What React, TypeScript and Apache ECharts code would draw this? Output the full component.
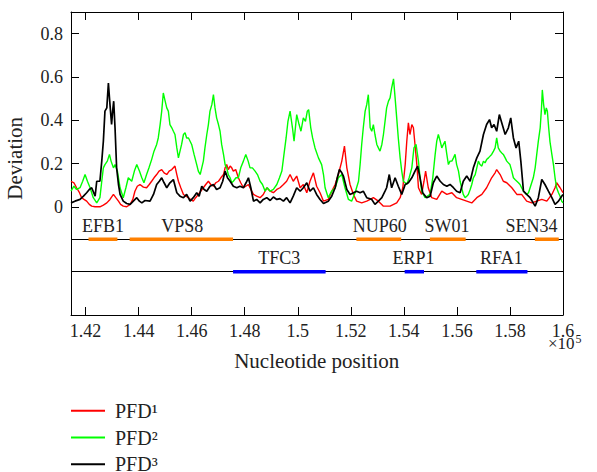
import React, { useEffect, useRef } from "react";
import * as echarts from "echarts";

const FONT = '"Liberation Serif", "Times New Roman", serif';
const TEXT = "#222";

const X_MIN = 141450;
const X_MAX = 160000;
const Y_MIN = -0.5;
const Y_MAX = 0.9;
const X_TICKS = [142000, 144000, 146000, 148000, 150000, 152000, 154000, 156000, 158000, 160000];
const Y_TICKS = [0, 0.2, 0.4, 0.6, 0.8];

const SERIES_NAMES = ["PFD¹", "PFD²", "PFD³"];
const SERIES_COLORS = ["#ff0000", "#00ff00", "#000000"];

const PFD1: [number, number][] = [
  [141450,0.118],[141560,0.111],[141660,0.088],[141770,0.065],[141850,0.042],[141940,0.034],[142040,0.026],[142140,0.011],[142230,0.003],[142360,0],[142540,0],[142670,0.008],[142800,0.018],[142920,0.034],[143050,0.057],[143140,0.042],[143240,0.026],[143320,0.011],[143420,0.003],[143550,0],[143680,0.011],[143780,0.034],[143860,0.072],[143950,0.095],[144050,0.103],[144180,0.091],[144300,0.088],[144400,0.103],[144490,0.118],[144580,0.134],[144680,0.149],[144770,0.165],[144870,0.172],[144960,0.157],[145060,0.149],[145150,0.165],[145250,0.172],[145310,0.18],[145370,0.188],[145440,0.149],[145500,0.118],[145590,0.088],[145690,0.057],[145780,0.049],[145880,0.042],[145960,0.034],[146060,0.026],[146150,0.042],[146250,0.057],[146340,0.072],[146440,0.088],[146530,0.103],[146630,0.118],[146720,0.103],[146820,0.095],[146910,0.111],[147010,0.118],[147100,0.134],[147200,0.149],[147260,0.18],[147320,0.195],[147380,0.172],[147450,0.188],[147510,0.18],[147570,0.165],[147660,0.172],[147760,0.134],[147850,0.111],[147950,0.088],[148040,0.095],[148140,0.103],[148230,0.08],[148330,0.057],[148450,0.049],[148580,0.042],[148700,0.057],[148830,0.088],[148960,0.072],[149080,0.065],[149210,0.08],[149330,0.088],[149460,0.103],[149580,0.118],
  [149710,0.149],[149830,0.118],[149960,0.142],[150090,0.088],[150210,0.103],[150340,0.065],[150460,0.118],[150590,0.157],[150710,0.095],[150840,0.065],[150970,0.026],[151150,0.034],[151280,0.072],[151410,0.103],[151530,0.149],[151660,0.211],[151760,0.28],[151850,0.18],[151970,0.103],[152100,0.057],[152220,0.026],[152410,0.018],[152600,0.026],[152730,0.034],[152850,0.042],[153040,0.026],[153230,0.003],[153480,0.003],[153730,0.018],[153860,0.042],[153960,0.088],[154050,0.195],[154110,0.303],[154170,0.388],[154230,0.334],[154300,0.38],[154360,0.365],[154420,0.288],[154490,0.195],[154550,0.088],[154670,0.057],[154760,0.118],[154820,0.165],[154920,0.088],[155050,0.042],[155240,0.034],[155430,0.072],[155620,0.057],[155810,0.065],[155990,0.042],[156180,0.034],[156370,0.026],[156560,0.018],[156750,0.042],[156940,0.057],[157120,0.088],[157310,0.134],[157440,0.157],[157500,0.172],[157630,0.149],[157750,0.118],[157880,0.111],[158070,0.088],[158260,0.057],[158440,0.057],[158630,0.026],[158820,0.018],[159010,0.026],[159200,0.034],[159390,0.026],[159580,0.057],[159700,0.088],[159760,0.111],[159890,0.088],[160000,0.065]
];

const PFD2: [number, number][] = [
  [141450,0.072],[141560,0.095],[141660,0.08],[141790,0.088],[141890,0.118],[141980,0.149],[142070,0.118],[142170,0.088],[142290,0.042],[142420,0.018],[142540,0.042],[142610,0.118],[142670,0.18],[142730,0.195],[142820,0.211],[142900,0.242],[142960,0.211],[143050,0.18],[143110,0.195],[143200,0.165],[143300,0.088],[143420,0.042],[143520,0.088],[143610,0.134],[143740,0.118],[143840,0.165],[143930,0.195],[144030,0.165],[144120,0.134],[144200,0.111],[144300,0.149],[144390,0.18],[144490,0.218],[144580,0.257],[144680,0.288],[144740,0.318],[144810,0.38],[144870,0.442],[144930,0.526],[145000,0.488],[145060,0.457],[145120,0.442],[145180,0.38],[145250,0.365],[145310,0.349],[145370,0.334],[145440,0.272],[145500,0.226],[145560,0.257],[145620,0.288],[145690,0.334],[145750,0.342],[145810,0.318],[145880,0.318],[145940,0.303],[146000,0.288],[146090,0.242],[146190,0.195],[146250,0.165],[146320,0.149],[146380,0.18],[146440,0.211],[146500,0.272],[146570,0.334],[146630,0.38],[146690,0.442],[146760,0.472],[146820,0.518],[146880,0.457],[146940,0.411],[147010,0.38],[147070,0.349],[147130,0.288],[147200,0.242],[147260,0.195],[147320,0.18],[147380,0.149],[147450,0.134],[147510,0.111],[147570,0.118],[147670,0.134],[147760,0.134],[147850,0.18],[147950,0.211],[148040,0.242],[148130,0.211],[148200,0.18],[148290,0.18],[148390,0.165],[148480,0.149],[148580,0.118],[148670,0.103],[148770,0.072],[148850,0.088],[148960,0.072],[149080,0.08],[149210,0.103],[149310,0.134],[149400,0.165],[149480,0.242],[149560,0.318],[149630,0.395],
  [149710,0.442],[149800,0.365],[149860,0.303],[149960,0.426],[150050,0.38],[150120,0.349],[150210,0.411],[150290,0.395],[150360,0.442],[150410,0.449],[150490,0.365],[150560,0.318],[150650,0.272],[150780,0.226],[150900,0.195],[150970,0.149],[151030,0.088],[151150,0.042],[151280,0.072],[151410,0.088],[151530,0.134],[151660,0.149],[151780,0.088],[151910,0.034],[152030,0.026],[152160,0.065],[152290,0.118],[152350,0.195],[152410,0.288],[152470,0.365],[152540,0.442],[152600,0.472],[152660,0.518],[152730,0.365],[152790,0.349],[152850,0.38],[152910,0.334],[152980,0.288],[153040,0.272],[153100,0.257],[153170,0.288],[153230,0.334],[153290,0.395],[153350,0.457],[153420,0.488],[153480,0.503],[153540,0.549],[153610,0.591],[153670,0.503],[153730,0.411],[153790,0.318],[153860,0.226],[153920,0.165],[153980,0.118],[154050,0.111],[154110,0.103],[154200,0.134],[154300,0.18],[154380,0.272],[154460,0.288],[154550,0.211],[154610,0.134],[154670,0.072],[154800,0.042],[154990,0.057],[155090,0.134],[155180,0.242],[155240,0.303],[155300,0.334],[155370,0.303],[155430,0.272],[155490,0.288],[155550,0.303],[155620,0.242],[155680,0.195],[155740,0.211],[155810,0.211],[155870,0.226],[155930,0.242],[155990,0.195],[156060,0.165],[156120,0.118],[156180,0.088],[156240,0.057],[156310,0.042],[156370,0.049],[156430,0.057],[156500,0.08],[156560,0.103],[156620,0.134],[156690,0.149],[156750,0.18],[156810,0.211],[156870,0.195],[156940,0.188],[157000,0.211],[157060,0.203],[157120,0.218],[157190,0.226],[157250,0.234],[157310,0.242],[157380,0.257],[157440,0.272],[157500,0.318],[157560,0.272],[157630,0.257],[157690,0.249],[157750,0.242],[157820,0.226],[157880,0.211],[157940,0.203],[158000,0.195],[158070,0.165],[158130,0.134],[158190,0.126],[158260,0.118],[158320,0.111],[158380,0.103],[158440,0.088],[158510,0.072],[158570,0.065],[158630,0.057],[158700,0.065],[158760,0.088],[158820,0.111],[158880,0.134],[158950,0.18],[159010,0.242],[159070,0.303],[159140,0.365],[159190,0.457],[159220,0.54],[159270,0.472],[159320,0.426],[159370,0.457],[159410,0.442],[159460,0.365],[159510,0.3],[159580,0.242],[159640,0.195],[159700,0.134],[159760,0.088],[159830,0.065],[159890,0.049],[159950,0.026],[160000,0.018]
];

const PFD3: [number, number][] = [
  [141450,0.018],[141600,0.026],[141790,0.034],[141920,0.049],[142040,0.065],[142140,0.08],[142230,0.088],[142360,0.049],[142420,0.118],[142540,0.118],[142610,0.211],[142670,0.303],[142730,0.442],[142800,0.457],[142860,0.572],[142900,0.503],[142950,0.426],[142980,0.38],[143020,0.442],[143060,0.488],[143110,0.365],[143170,0.18],[143240,0.103],[143300,0.057],[143420,0.026],[143550,0.015],[143680,0.011],[143800,0.026],[143930,0.042],[144030,0.026],[144120,0.018],[144240,0.029],[144430,0.026],[144560,0.057],[144680,0.103],[144780,0.118],[144870,0.134],[144960,0.111],[145060,0.088],[145180,0.111],[145310,0.126],[145440,0.065],[145560,0.049],[145690,0.042],[145810,0.057],[145940,0.026],[146060,0.042],[146190,0.065],[146280,0.049],[146380,0.095],[146470,0.08],[146570,0.072],[146690,0.095],[146820,0.103],[146940,0.08],[147070,0.088],[147170,0.118],[147260,0.165],[147350,0.134],[147450,0.118],[147570,0.095],[147700,0.088],[147820,0.095],[147950,0.088],[148050,0.111],[148140,0.134],[148230,0.088],[148330,0.026],[148450,0.034],[148580,0.018],[148700,0.034],[148830,0.042],[148960,0.029],[149080,0.045],[149210,0.034],[149330,0.038],[149460,0.026],[149580,0.042],
  [149710,0.018],[149830,0.049],[149960,0.088],[150090,0.072],[150210,0.088],[150340,0.111],[150460,0.072],[150590,0.088],[150710,0.057],[150840,0.034],[150970,0.015],[151150,0.026],[151280,0.049],[151410,0.088],[151490,0.134],[151570,0.172],[151660,0.157],[151720,0.142],[151850,0.08],[151970,0.057],[152100,0.065],[152220,0.072],[152350,0.065],[152470,0.072],[152600,0.042],[152790,0.034],[152910,0.011],[153040,0.026],[153170,0.042],[153290,0.072],[153350,0.088],[153450,0.149],[153540,0.088],[153670,0.134],[153790,0.095],[153920,0.057],[154050,0.103],[154170,0.111],[154300,0.134],[154420,0.165],[154520,0.188],[154610,0.134],[154710,0.065],[154860,0.042],[154990,0.049],[155110,0.111],[155240,0.142],[155370,0.118],[155490,0.103],[155620,0.095],[155740,0.103],[155870,0.088],[155990,0.072],[156120,0.065],[156240,0.118],[156370,0.142],[156500,0.118],[156620,0.18],[156750,0.226],[156870,0.257],[157000,0.334],[157120,0.38],[157230,0.403],[157310,0.365],[157400,0.38],[157500,0.349],[157600,0.426],[157690,0.388],[157820,0.334],[157940,0.365],[158030,0.411],[158130,0.318],[158230,0.272],[158330,0.303],[158410,0.211],[158510,0.072],[158630,0.057],[158760,0.042],[158950,0.003],[159070,0.042],[159200,0.126],[159320,0.103],[159450,0.072],[159580,0.042],[159700,0.011],[159830,0.026],[159950,0.049],[160000,0.057]
];

// Gene annotations
const GENE_NAMES = ["EFB1", "VPS8", "NUP60", "SW01", "SEN34", "TFC3", "ERP1", "RFA1"];
const GENE_START = [142110, 143660, 152210, 154980, 158940, 147560, 154030, 156730];
const GENE_END = [143200, 147560, 153900, 156330, 159840, 151050, 154760, 158660];
const GENE_TRACK = [0, 0, 0, 0, 0, 1, 1, 1];
const GENE_LABEL_X = [142657, 145643, 153091, 155622, 158808, 149301, 154366, 157677];

const TRACK_Y = [-0.15, -0.3];
const TRACK_LABEL_Y = [-0.087, -0.236];
const TRACK_COLORS = ["#ff8000", "#0000ff"];

const LEGEND_CENTER_Y = [410.7, 437.5, 464.3];

export default function App() {
  const ref = useRef<HTMLDivElement>(null);
  useEffect(() => {
    if (!ref.current) return;
    const chart = echarts.init(ref.current, null, { renderer: "svg" });
    const geneRows = GENE_NAMES.map((_, i) => [GENE_START[i], GENE_END[i], GENE_TRACK[i], GENE_LABEL_X[i]]);
    const axisLine = { show: true, onZero: false, lineStyle: { color: "#000", width: 1 } };
    const fmtX = (v: number) => String(+(v / 1e5).toFixed(2));
    const fmtY = (v: number) => String(+v.toFixed(1));
    const legends = SERIES_NAMES.map((n, i) => ({
      orient: "vertical", left: 71, top: LEGEND_CENTER_Y[i] - 11, padding: 0,
      itemWidth: 34, itemHeight: 2, icon: "rect",
      data: [n],
      textStyle: { fontFamily: FONT, fontSize: 20, color: TEXT, lineHeight: 22, padding: [0, 0, 0, 5] },
    }));
    chart.setOption({
      animation: false,
      backgroundColor: "#fff",
      color: SERIES_COLORS,
      grid: { left: 71, right: 34, top: 12, bottom: 157, containLabel: false },
      xAxis: [
        {
          type: "value", min: X_MIN, max: X_MAX, position: "bottom",
          axisLine, splitLine: { show: false },
          axisTick: { show: true, inside: true, length: 8, customValues: X_TICKS, lineStyle: { color: "#000" } },
          axisLabel: { show: true, customValues: X_TICKS, formatter: fmtX, margin: 10, lineHeight: 12, fontFamily: FONT, fontSize: 18, color: TEXT },
        },
        {
          type: "value", min: X_MIN, max: X_MAX, position: "top",
          axisLine, splitLine: { show: false },
          axisTick: { show: true, inside: true, length: 8, customValues: X_TICKS, lineStyle: { color: "#000" } },
          axisLabel: { show: false },
        },
      ],
      yAxis: [
        {
          type: "value", min: Y_MIN, max: Y_MAX, position: "left",
          axisLine, splitLine: { show: false },
          axisTick: { show: true, inside: true, length: 8, customValues: Y_TICKS, lineStyle: { color: "#000" } },
          axisLabel: { show: true, customValues: Y_TICKS, formatter: fmtY, margin: 8, fontFamily: FONT, fontSize: 18, color: TEXT },
        },
        {
          type: "value", min: Y_MIN, max: Y_MAX, position: "right",
          axisLine, splitLine: { show: false },
          axisTick: { show: true, inside: true, length: 8, customValues: Y_TICKS, lineStyle: { color: "#000" } },
          axisLabel: { show: false },
        },
      ],
      legend: legends,
      graphic: [
        { type: "text", x: 14.6, y: 158.3, rotation: Math.PI / 2, style: { text: "Deviation", fontFamily: FONT, fontSize: 21, fill: TEXT, align: "center", verticalAlign: "middle" } },
        { type: "text", x: 316.7, y: 361.2, style: { text: "Nucleotide position", fontFamily: FONT, fontSize: 21, fill: TEXT, align: "center", verticalAlign: "middle" } },
        { type: "text", x: 548, y: 343.5, style: { text: "×10", fontFamily: FONT, fontSize: 17, lineHeight: 11, fill: TEXT, align: "left", verticalAlign: "middle" } },
        { type: "text", x: 575.5, y: 338.5, style: { text: "5", fontFamily: FONT, fontSize: 12, lineHeight: 8, fill: TEXT, align: "left", verticalAlign: "middle" } },
      ],
      series: [
        {
          type: "line", name: SERIES_NAMES[0], data: PFD1, showSymbol: false, symbol: "none",
          lineStyle: { color: SERIES_COLORS[0], width: 1.4 }, itemStyle: { color: SERIES_COLORS[0] }, z: 2,
          markLine: {
            silent: true, symbol: "none", label: { show: false },
            lineStyle: { color: "#000", width: 1, type: "solid" },
            data: TRACK_Y.map((y) => ({ yAxis: y })),
          },
        },
        {
          type: "line", name: SERIES_NAMES[1], data: PFD2, showSymbol: false, symbol: "none",
          lineStyle: { color: SERIES_COLORS[1], width: 1.4 }, itemStyle: { color: SERIES_COLORS[1] }, z: 3,
        },
        {
          type: "line", name: SERIES_NAMES[2], data: PFD3, showSymbol: false, symbol: "none",
          lineStyle: { color: SERIES_COLORS[2], width: 1.7 }, itemStyle: { color: SERIES_COLORS[2] }, z: 4,
        },
        {
          type: "custom", name: "genes", data: geneRows, silent: true, z: 5,
          encode: { x: [0, 1], y: 2 },
          renderItem: (params: any, api: any) => {
            const i = params.dataIndex;
            const track = api.value(2);
            const p1 = api.coord([api.value(0), TRACK_Y[track]]);
            const p2 = api.coord([api.value(1), TRACK_Y[track]]);
            const lp = api.coord([api.value(3), TRACK_LABEL_Y[track]]);
            return {
              type: "group",
              children: [
                { type: "line", shape: { x1: p1[0], y1: p1[1], x2: p2[0], y2: p2[1] }, style: { stroke: TRACK_COLORS[track], lineWidth: 3.5 } },
                { type: "text", x: lp[0], y: lp[1], style: { text: GENE_NAMES[i], fontFamily: FONT, fontSize: 18, fill: TEXT, align: "center", verticalAlign: "middle" } },
              ],
            };
          },
        },
      ],
    });
    return () => chart.dispose();
  }, []);
  return <div ref={ref} style={{ position: "fixed", left: 0, top: 0, width: 597, height: 472, background: "#fff" }} />;
}
